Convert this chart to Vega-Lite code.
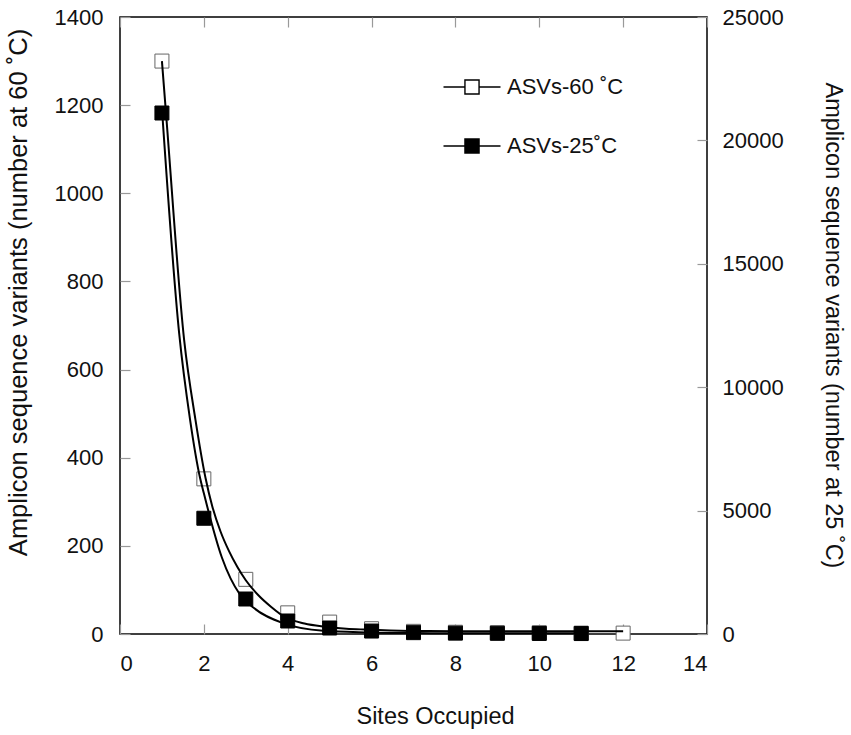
{
  "$schema": "https://vega.github.io/schema/vega-lite/v6.json",
  "width": 587,
  "height": 617,
  "autosize": "none",
  "padding": {"left": 120, "top": 17, "right": 144, "bottom": 101},
  "config": {
    "font": "Liberation Sans",
    "view": {"stroke": "#000", "strokeWidth": 1.5},
    "axis": {
      "domain": false,
      "grid": false,
      "format": "d",
      "tickColor": "#999",
      "tickSize": -10,
      "tickWidth": 1.2,
      "labelFont": "Liberation Sans",
      "labelFontSize": 22,
      "labelColor": "#111",
      "titleFont": "Liberation Sans",
      "titleFontSize": 23.5,
      "titleFontWeight": "normal",
      "titleColor": "#111"
    },
    "legend": {
      "orient": "none",
      "legendX": 336,
      "legendY": 54,
      "padding": 0,
      "title": null,
      "symbolType": "M-1.9,0H-0.47M0.47,0H1.9M-0.47,-0.47H0.47V0.47H-0.47Z",
      "symbolSize": 900,
      "symbolStrokeColor": "#000",
      "symbolStrokeWidth": 1.4,
      "symbolOpacity": 1,
      "labelFont": "Liberation Sans",
      "labelFontSize": 22,
      "labelColor": "#111",
      "labelOffset": 19,
      "rowPadding": 32
    }
  },
  "datasets": {
    "points": [
      {"site": 1, "series": "ASVs-60 ˚C", "asv": 1300},
      {"site": 2, "series": "ASVs-60 ˚C", "asv": 352},
      {"site": 3, "series": "ASVs-60 ˚C", "asv": 124},
      {"site": 4, "series": "ASVs-60 ˚C", "asv": 48},
      {"site": 5, "series": "ASVs-60 ˚C", "asv": 27},
      {"site": 6, "series": "ASVs-60 ˚C", "asv": 12},
      {"site": 7, "series": "ASVs-60 ˚C", "asv": 6},
      {"site": 8, "series": "ASVs-60 ˚C", "asv": 4},
      {"site": 9, "series": "ASVs-60 ˚C", "asv": 3},
      {"site": 10, "series": "ASVs-60 ˚C", "asv": 3},
      {"site": 11, "series": "ASVs-60 ˚C", "asv": 2},
      {"site": 12, "series": "ASVs-60 ˚C", "asv": 2},
      {"site": 1, "series": "ASVs-25˚C", "asv": 21110},
      {"site": 2, "series": "ASVs-25˚C", "asv": 4690},
      {"site": 3, "series": "ASVs-25˚C", "asv": 1418},
      {"site": 4, "series": "ASVs-25˚C", "asv": 527},
      {"site": 5, "series": "ASVs-25˚C", "asv": 243},
      {"site": 6, "series": "ASVs-25˚C", "asv": 120},
      {"site": 7, "series": "ASVs-25˚C", "asv": 55},
      {"site": 8, "series": "ASVs-25˚C", "asv": 35},
      {"site": 9, "series": "ASVs-25˚C", "asv": 28},
      {"site": 10, "series": "ASVs-25˚C", "asv": 22},
      {"site": 11, "series": "ASVs-25˚C", "asv": 18}
    ],
    "fits": [
      {"site": 1.0, "series": "60", "asv": 1300},
      {"site": 1.11, "series": "60", "asv": 1166},
      {"site": 1.53, "series": "60", "asv": 667},
      {"site": 1.8, "series": "60", "asv": 486},
      {"site": 2.04, "series": "60", "asv": 354},
      {"site": 2.2, "series": "60", "asv": 290},
      {"site": 2.4, "series": "60", "asv": 232},
      {"site": 2.6, "series": "60", "asv": 188},
      {"site": 2.8, "series": "60", "asv": 152},
      {"site": 3.0, "series": "60", "asv": 122},
      {"site": 3.3, "series": "60", "asv": 88},
      {"site": 3.6, "series": "60", "asv": 62},
      {"site": 3.94, "series": "60", "asv": 38},
      {"site": 4.4, "series": "60", "asv": 24},
      {"site": 4.85, "series": "60", "asv": 17},
      {"site": 5.4, "series": "60", "asv": 12},
      {"site": 5.88, "series": "60", "asv": 10},
      {"site": 6.44, "series": "60", "asv": 8},
      {"site": 7, "series": "60", "asv": 7},
      {"site": 8, "series": "60", "asv": 6.5},
      {"site": 9, "series": "60", "asv": 6},
      {"site": 10, "series": "60", "asv": 6},
      {"site": 11, "series": "60", "asv": 6},
      {"site": 12, "series": "60", "asv": 6},
      {"site": 1.0, "series": "25", "asv": 21300},
      {"site": 1.41, "series": "25", "asv": 12200},
      {"site": 1.67, "series": "25", "asv": 8700},
      {"site": 1.91, "series": "25", "asv": 6320},
      {"site": 2.0, "series": "25", "asv": 5700},
      {"site": 2.43, "series": "25", "asv": 3100},
      {"site": 2.86, "series": "25", "asv": 1600},
      {"site": 3.18, "series": "25", "asv": 1070},
      {"site": 3.9, "series": "25", "asv": 430},
      {"site": 4.85, "series": "25", "asv": 130},
      {"site": 5.88, "series": "25", "asv": 65},
      {"site": 7, "series": "25", "asv": 40},
      {"site": 8, "series": "25", "asv": 30},
      {"site": 9, "series": "25", "asv": 30},
      {"site": 10, "series": "25", "asv": 30},
      {"site": 11, "series": "25", "asv": 30}
    ]
  },
  "layer": [
    {
      "encoding": {
        "x": {
          "field": "site",
          "type": "quantitative",
          "scale": {"domain": [0, 14]},
          "axis": {
            "orient": "bottom",
            "values": [0, 2, 4, 6, 8, 10, 12, 14],
            "labelPadding": 29,
            "title": "Sites Occupied",
            "titleX": 315,
            "titleY": 89,
            "titleBaseline": "alphabetic"
          }
        },
        "y": {
          "field": "asv",
          "type": "quantitative",
          "scale": {"domain": [0, 1400]},
          "axis": {
            "orient": "left",
            "values": [0, 200, 400, 600, 800, 1000, 1200, 1400],
            "labelPadding": 27,
            "title": "Amplicon sequence variants (number at 60 ˚C)",
            "titleFontSize": 25.5,
            "titleX": -102,
            "titleY": 275,
            "titleAlign": "center",
            "titleBaseline": "middle"
          }
        }
      },
      "layer": [
        {
          "data": {"name": "points"},
          "transform": [{"filter": "datum.series === 'ASVs-60 ˚C'"}],
          "mark": {"type": "point", "shape": "square", "filled": true, "opacity": 1, "size": 196, "stroke": "#666", "strokeWidth": 1},
          "encoding": {
            "fill": {
              "field": "series",
              "type": "nominal",
              "scale": {"domain": ["ASVs-60 ˚C", "ASVs-25˚C"], "range": ["#fff", "#000"]},
              "legend": {"symbolStrokeColor": "#000"}
            }
          }
        },
        {
          "data": {"name": "fits"},
          "transform": [{"filter": "datum.series === '60'"}],
          "mark": {"type": "line", "color": "#000", "strokeWidth": 2, "interpolate": "monotone"}
        }
      ]
    },
    {
      "encoding": {
        "x": {
          "field": "site",
          "type": "quantitative",
          "scale": {"domain": [0, 14]},
          "axis": {
            "orient": "top",
            "values": [0, 2, 4, 6, 8, 10, 12, 14],
            "labels": false,
            "title": null
          }
        },
        "y": {
          "field": "asv",
          "type": "quantitative",
          "scale": {"domain": [0, 25000]},
          "axis": {
            "orient": "right",
            "values": [0, 5000, 10000, 15000, 20000, 25000],
            "labelPadding": 25,
            "title": "Amplicon sequence variants (number at 25 ˚C)",
            "titleAngle": 90,
            "titleX": 125,
            "titleY": 308,
            "titleAlign": "center",
            "titleBaseline": "middle"
          }
        }
      },
      "layer": [
        {
          "data": {"name": "fits"},
          "transform": [{"filter": "datum.series === '25'"}],
          "mark": {"type": "line", "color": "#000", "strokeWidth": 2, "interpolate": "monotone"}
        },
        {
          "data": {"name": "points"},
          "transform": [{"filter": "datum.series === 'ASVs-25˚C'"}],
          "mark": {"type": "point", "shape": "square", "filled": true, "opacity": 1, "size": 196, "stroke": "#000", "strokeWidth": 1},
          "encoding": {
            "fill": {
              "field": "series",
              "type": "nominal",
              "scale": {"domain": ["ASVs-60 ˚C", "ASVs-25˚C"], "range": ["#fff", "#000"]}
            }
          }
        }
      ]
    }
  ],
  "resolve": {
    "scale": {"y": "independent"},
    "axis": {"x": "independent", "y": "independent"}
  }
}
